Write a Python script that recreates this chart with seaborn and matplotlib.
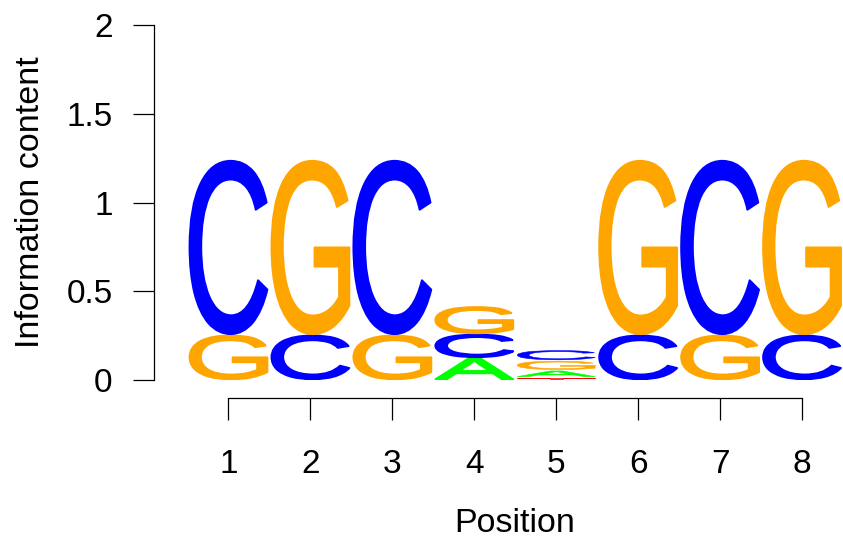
import matplotlib
matplotlib.use("Agg")
import matplotlib.pyplot as plt
import matplotlib.transforms as mtransforms
from matplotlib.textpath import TextPath
from matplotlib.font_manager import FontProperties
from matplotlib.patches import PathPatch
import seaborn as sns

# ---- data (information content per letter, bits) ----
positions = [1, 2, 3, 4, 5, 6, 7, 8]
letters = ["A", "C", "G", "T"]
height_A = [0.0, 0.0, 0.0, 0.125, 0.040, 0.0, 0.0, 0.0]
height_C = [0.985, 0.255, 0.985, 0.135, 0.060, 0.255, 0.985, 0.255]
height_G = [0.255, 0.985, 0.255, 0.155, 0.055, 0.985, 0.255, 0.985]
height_T = [0.0, 0.0, 0.0, 0.0, 0.015, 0.0, 0.0, 0.0]
y_ticks = [0, 0.5, 1, 1.5, 2]
y_tick_labels = ["0", "0.5", "1", "1.5", "2"]
x_label = "Position"
y_label = "Information content"

colors = {"A": "#00FF00", "C": "#0000FF", "G": "#FFA500", "T": "#FF0000"}
heights = {"A": height_A, "C": height_C, "G": height_G, "T": height_T}

sns.set_style("ticks")
plt.rcParams["font.family"] = ["Liberation Sans", "DejaVu Sans"]
plt.rcParams["text.color"] = "black"

fig = plt.figure(figsize=(8.43, 5.40), dpi=100)
ax = fig.add_axes([187.5 / 843, 160 / 540, 655.5 / 843, 363.5 / 540])

fp = FontProperties(family="Liberation Sans", weight="normal")


def letter_patch(ch, x0, y0, w, h, color):
    tp = TextPath((0, 0), ch, size=1, prop=fp)
    bb = tp.get_extents()
    t = (mtransforms.Affine2D()
         .translate(-bb.x0, -bb.y0)
         .scale(w / bb.width, h / bb.height)
         .translate(x0, y0))
    lw = 1.4 if h > 0.1 else 0.4
    return PathPatch(t.transform_path(tp), facecolor=color, edgecolor=color,
                     linewidth=lw, joinstyle="round")


w = 0.95
for i, pos in enumerate(positions):
    col = sorted(letters, key=lambda L: heights[L][i])
    base = 0.0
    for L in col:
        h = heights[L][i]
        if h > 0:
            ax.add_patch(letter_patch(L, pos - w / 2, base + 0.004, w, h - 0.008, colors[L]))
        base += h

ax.set_xlim(0.5, 8.5)
ax.set_ylim(0, 2.05)
ax.set_xticks(positions)
ax.set_xticklabels([str(p) for p in positions])
ax.set_yticks(y_ticks)
ax.set_yticklabels(y_tick_labels)

sns.despine(ax=ax, offset={"left": 24, "bottom": 13})
ax.spines["left"].set_bounds(0, 2)
ax.spines["bottom"].set_bounds(1, 8)
for s in ("left", "bottom"):
    ax.spines[s].set_linewidth(0.9)
    ax.spines[s].set_color("black")
ax.tick_params(axis="y", length=15, width=0.9, pad=15, labelsize=24, colors="black")
ax.tick_params(axis="x", length=15.5, width=0.9, pad=21, labelsize=24, colors="black")
ax.set_facecolor("white")
ax.grid(False)

fig.text(31 / 843, 1 - 202 / 540, y_label, rotation=90, ha="center", va="center",
         fontsize=24.5, color="black")
fig.text(515 / 843, 1 - 523 / 540, x_label, ha="center", va="center",
         fontsize=24.5, color="black")

fig.savefig("out.png", dpi=100, facecolor="white")
